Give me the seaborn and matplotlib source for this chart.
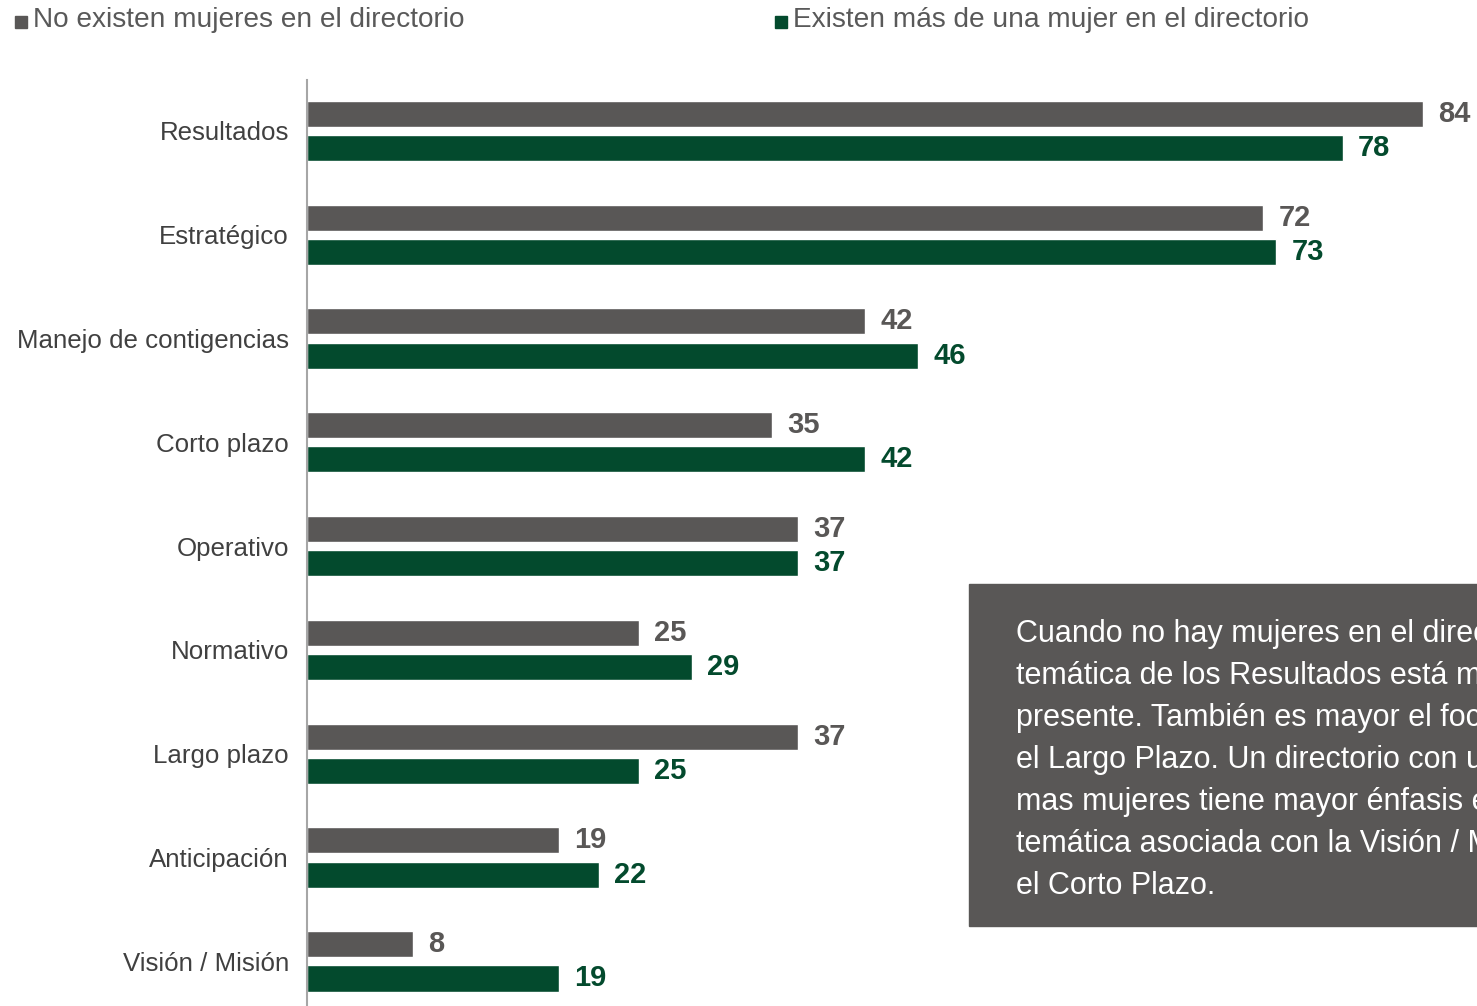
import pandas as pd
import matplotlib.pyplot as plt
import seaborn as sns
from matplotlib.patches import Rectangle

categorias = ["Resultados", "Estratégico", "Manejo de contigencias", "Corto plazo",
              "Operativo", "Normativo", "Largo plazo", "Anticipación", "Visión / Misión"]
sin_mujeres = [84, 72, 42, 35, 37, 25, 37, 19, 8]
con_mujeres = [78, 73, 46, 42, 37, 29, 25, 22, 19]
series = ["No existen mujeres en el directorio", "Existen más de una mujer en el directorio"]

gris = "#595756"
verde = "#034A2D"

df = pd.DataFrame({
    "tema": categorias * 2,
    "valor": sin_mujeres + con_mujeres,
    "grupo": [series[0]] * len(categorias) + [series[1]] * len(categorias),
})

sns.set_style("white")
plt.rcParams["font.family"] = ["Liberation Sans", "DejaVu Sans"]

fig = plt.figure(figsize=(14.77, 10.06), dpi=100)
ax = fig.add_axes([307 / 1477, 0, 1 - 307 / 1477, (1006 - 80) / 1006])

sns.barplot(data=df, y="tema", x="valor", hue="grupo", order=categorias,
            hue_order=series, palette=[gris, verde], width=0.66, gap=0.24,
            saturation=1, orient="h", ax=ax, legend=False)

for cont, col in zip(ax.containers, [gris, verde]):
    ax.bar_label(cont, padding=11, fontsize=21, fontweight="bold", color=col)

ax.set_xlim(0, 88.1)
ax.set_ylim(8.43, -0.49)
ax.set_xlabel("")
ax.set_ylabel("")
ax.set_xticks([])
ax.tick_params(axis="y", length=0, pad=13, labelsize=18.6, labelcolor="#404040")
for lbl in ax.get_yticklabels():
    lbl.set_va("center_baseline")
for s in ["top", "right", "bottom"]:
    ax.spines[s].set_visible(False)
ax.spines["left"].set_color("#a6a6a6")
ax.spines["left"].set_linewidth(1.5)

# leyenda
for i, (x0, col) in enumerate([(15, gris), (775, verde)]):
    fig.patches.append(Rectangle((x0 / 1477, 1 - 28 / 1006), 12 / 1477, 12 / 1006,
                                 transform=fig.transFigure, color=col))
    fig.text((x0 + 18) / 1477, 1 - 20 / 1006, series[i], fontsize=20.2, color="#595959",
             va="center", ha="left")

# cuadro de texto (recortado por el borde como en el original)
fig.patches.append(Rectangle((969 / 1477, 1 - 926 / 1006), 600 / 1477, 342 / 1006,
                             transform=fig.transFigure, color=gris, zorder=5))
nota = ("Cuando no hay mujeres en el directorio, la\n"
        "temática de los Resultados está más\n"
        "presente. También es mayor el foco en\n"
        "el Largo Plazo. Un directorio con una o\n"
        "mas mujeres tiene mayor énfasis en la\n"
        "temática asociada con la Visión / Misión y\n"
        "el Corto Plazo.")
fig.text(1016 / 1477, 1 - 619 / 1006, nota, fontsize=22, color="white", va="top",
         ha="left", linespacing=1.52, zorder=6)

fig.savefig("out.png", dpi=100)
